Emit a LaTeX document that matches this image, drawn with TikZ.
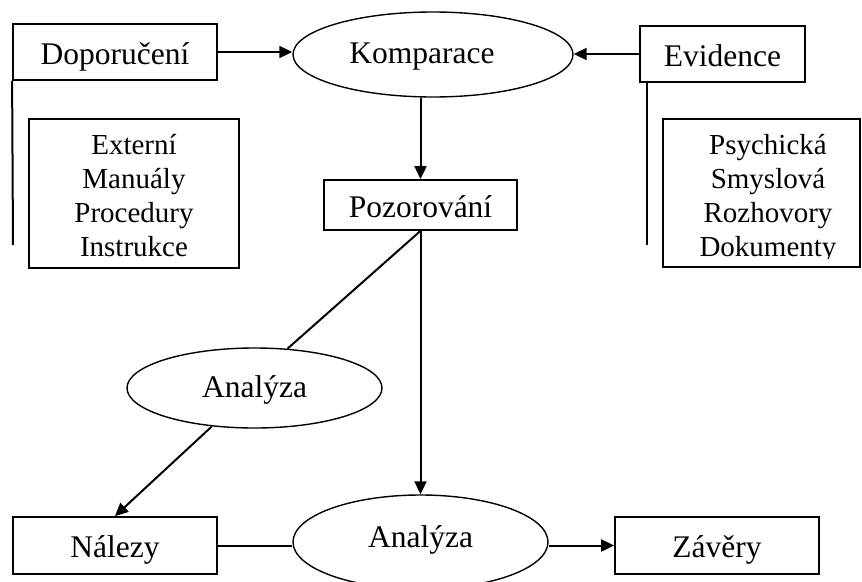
\documentclass[tikz,border=0pt]{standalone}
\usepackage{fontspec}
\setmainfont{Liberation Serif}
\usetikzlibrary{arrows.meta,shapes.geometric}
\begin{document}
\begin{tikzpicture}[x=1pt,y=-1pt,
  every node/.style={inner sep=0pt, font=\fontsize{31.5}{34}\selectfont},
  box/.style={draw, line width=1.8pt, rectangle, text height=24pt, text depth=0pt},
  oval/.style={draw, line width=1.4pt, ellipse, text height=18pt, text depth=0pt},
  listfont/.style={draw=none, text height=, text depth=, font=\fontsize{29}{34}\selectfont, align=center},
  conn/.style={line width=2pt},
  arr/.style={conn, -{Triangle[length=13pt,width=12pt]}},
  side/.style={line width=2pt}
]
\useasboundingbox (0,0) rectangle (862,581);

% top row
\node[box, minimum width=204pt, minimum height=56pt] (dop) at (115,52) {Doporučení};
\node[box, minimum width=165pt, minimum height=56pt] (ev) at (722.5,54) {Evidence};
\node[oval, text height=17pt, minimum width=280pt, minimum height=85pt] (komp) at (433,54.5) {Komparace\rule{22pt}{0pt}};

% source lists
\node[box, minimum width=210pt, minimum height=149pt,
  path picture={
    \node[listfont] (exttext) at ([yshift=-2pt]path picture bounding box.center)
      {Externí\\Manuály\\Procedury\\Instrukce};
  }] (ext) at (134,193.5) {};
\node[box, minimum width=197pt, minimum height=148pt,
  path picture={
    \clip ([yshift=9pt]path picture bounding box.south west) rectangle (path picture bounding box.north east);
    \node[listfont] (psytext) at ([xshift=6.5pt,yshift=-6pt]path picture bounding box.center)
      {Psychická\\Smyslová\\Rozhovory\\Dokumenty};
  }] (psy) at (761.5,193) {};

\coordinate (dopend) at (13,245);
\coordinate (evend) at (647,245);

% middle
\node[box, minimum width=193pt, minimum height=50pt] (poz) at (420.5,205) {Pozorování};
\node[oval, minimum width=255pt, minimum height=80pt] (an1) at (254.5,388) {Analýza};

% bottom row
\node[box, minimum width=204pt, minimum height=57pt] (nal) at (115,545.5) {Nálezy};
\node[oval, text height=10pt, minimum width=255pt, minimum height=94pt] (an2) at (420.5,542) {Analýza};
\node[box, minimum width=204pt, minimum height=57pt] (zav) at (717,545.5) {Závěry};

% side rules
\draw[side] (dop.south west) -- (dopend);
\draw[side] (evend |- ev.south) -- (evend);

% connectors
\draw[arr] (dop.east) -- (dop.east -| komp.west);
\draw[arr] (ev.west) -- (ev.west -| komp.east);
\draw[arr] (komp.south -| poz.north) -- (poz.north);
\draw[conn] (poz.south) -- (an1.50);
\draw[arr] (poz.south) -- (an2.north);
\draw[arr] (an1.222) -- (nal.north);
\draw[conn] (nal.east) -- (nal.east -| an2.west);
\draw[arr] (an2.east |- zav.west) -- (zav.west);
\end{tikzpicture}
\end{document}
